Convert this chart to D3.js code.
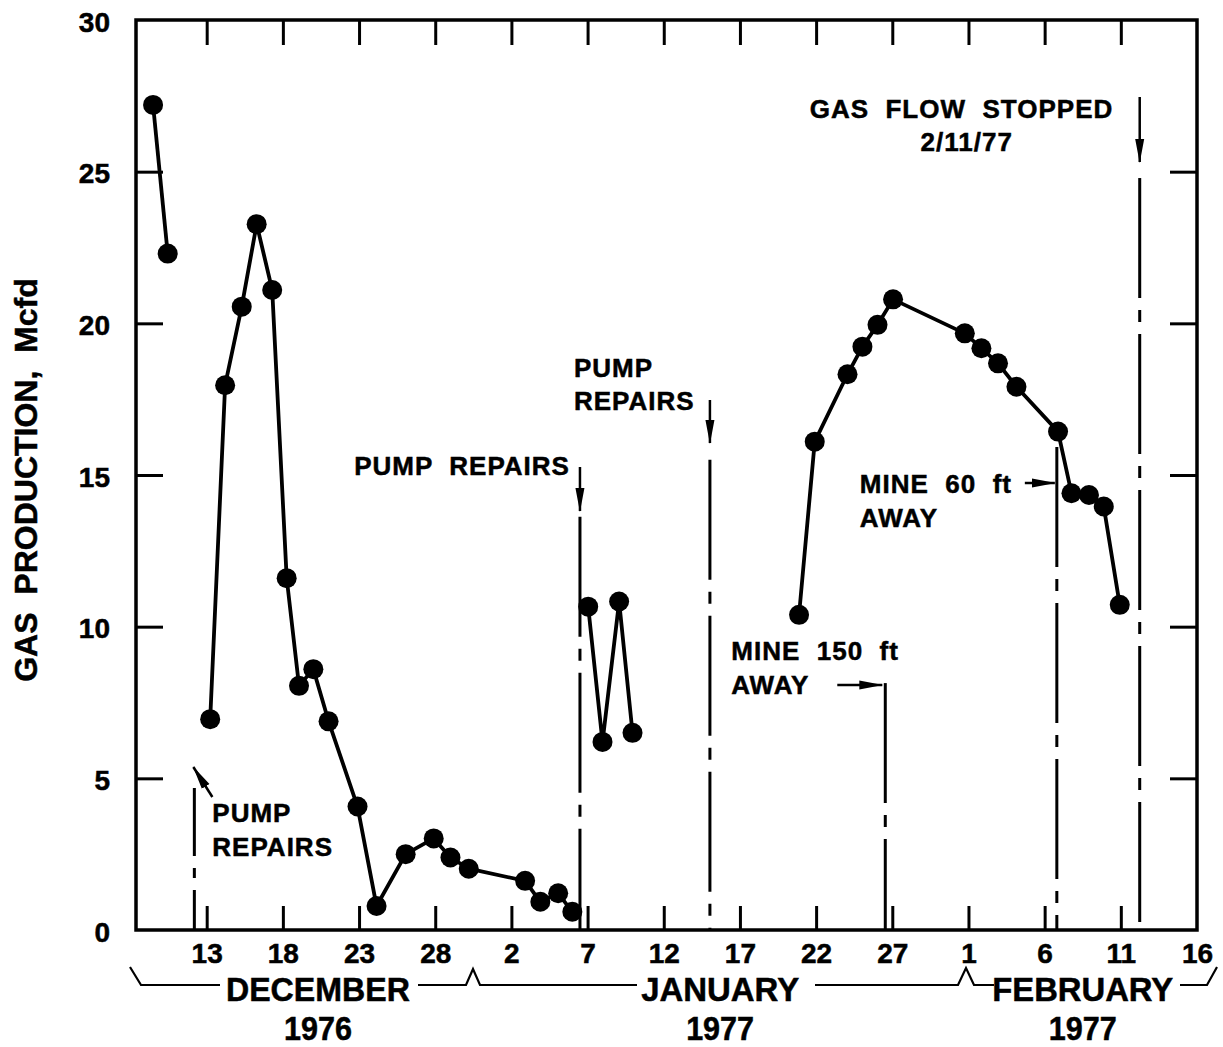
<!DOCTYPE html>
<html>
<head>
<meta charset="utf-8">
<script src="https://cdn.jsdelivr.net/npm/d3@7"></script>
<style>
  html, body { margin: 0; padding: 0; background: #fff; }
  svg { display: block; }
  text { font-family: "Liberation Sans", Arial, Helvetica, sans-serif; font-weight: bold; fill: #000; white-space: pre; stroke: #000; stroke-width: 0.5px; }
</style>
</head>
<body>
<svg id="chart" width="1223" height="1047"></svg>
<script>
// ---- DATA (x = day number counted from 1 Dec 1976 = 1) ----
const tickDays   = [13, 18, 23, 28, 33, 38, 43, 48, 53, 58, 63, 68, 73, 78];
const tickLabels = ['13','18','23','28','2','7','12','17','22','27','1','6','11','16'];
const yTickValues = [0, 5, 10, 15, 20, 25, 30];

const earlyDays   = [9.48, 10.44];
const earlyValues = [27.2, 22.3];

const decDays   = [13.23, 14.21, 15.3, 16.28, 17.3, 18.25, 19.06, 20.0, 21.0, 22.9, 24.15, 26.06, 27.9, 29.0, 30.2, 33.9, 34.9, 36.07, 37.0];
const decValues = [6.95, 17.96, 20.55, 23.27, 21.1, 11.6, 8.05, 8.6, 6.88, 4.07, 0.79, 2.5, 3.02, 2.39, 2.02, 1.62, 0.93, 1.21, 0.6];

const janDays   = [38.04, 38.98, 40.07, 40.95];
const janValues = [10.66, 6.2, 10.83, 6.5];

const febDays   = [51.88, 52.91, 55.06, 56.04, 57.03, 58.05, 62.76, 63.85, 64.94, 66.15, 68.88, 69.76, 70.91, 71.88, 72.93];
const febValues = [10.39, 16.1, 18.32, 19.23, 19.95, 20.79, 19.67, 19.18, 18.68, 17.91, 16.43, 14.4, 14.34, 13.96, 10.72];

// event markers (vertical dash-dot lines): day and the value where the line starts
const eventDays = [12.19, 37.5, 46.03, 57.54, 68.8, 74.24];
const eventTops = [4.68, 13.62, 15.5, 8.14, 15.92, 24.79];

const monthLabels = ['DECEMBER', 'JANUARY', 'FEBRUARY'];
const yearLabels  = ['1976', '1977', '1977'];
const yTitle = 'GAS  PRODUCTION,  Mcfd';

// ---- SCALES ----
const svg = d3.select('#chart');
const x = d3.scaleLinear().domain([8.36, 78]).range([136, 1197]);
const y = d3.scaleLinear().domain([0, 30]).range([930, 20]);

const segments = [
  earlyDays.map((d, i) => ({ d, v: earlyValues[i] })),
  decDays.map((d, i) => ({ d, v: decValues[i] })),
  janDays.map((d, i) => ({ d, v: janValues[i] })),
  febDays.map((d, i) => ({ d, v: febValues[i] }))
];

// arrow marker
const defs = svg.append('defs');
defs.append('marker')
  .attr('id', 'arr').attr('markerUnits', 'userSpaceOnUse')
  .attr('viewBox', '0 -6 24 12').attr('markerWidth', 24).attr('markerHeight', 12)
  .attr('refX', 23).attr('refY', 0).attr('orient', 'auto')
  .append('path').attr('d', 'M0,-4.5 L24,0 L0,4.5 Z').attr('fill', '#000');

// ---- AXES (ticks inside on all four sides) ----
const [x0, x1] = x.range();
const [yb, yt] = y.range();

const gB = svg.append('g').attr('transform', `translate(0,${yb})`)
  .call(d3.axisBottom(x).tickValues(tickDays).tickSizeInner(-24).tickSizeOuter(0)
    .tickFormat(d => tickLabels[tickDays.indexOf(d)]));
gB.selectAll('text').attr('y', 0).attr('dy', 33).style('font-size', '28px');

const gT = svg.append('g').attr('transform', `translate(0,${yt})`)
  .call(d3.axisTop(x).tickValues(tickDays.slice(0, -1)).tickSizeInner(-25).tickSizeOuter(0).tickFormat(''));

const gL = svg.append('g').attr('transform', `translate(${x0},0)`)
  .call(d3.axisLeft(y).tickValues(yTickValues).tickSizeInner(-27).tickSizeOuter(0));
gL.selectAll('text').attr('x', -26).attr('dy', 11).style('font-size', '28px');
gL.selectAll('.tick').filter(d => d === 0 || d === 30).select('line').remove();

const gR = svg.append('g').attr('transform', `translate(${x1},0)`)
  .call(d3.axisRight(y).tickValues(yTickValues.slice(1, -1)).tickSizeInner(-27).tickSizeOuter(0).tickFormat(''));

[gB, gT, gL, gR].forEach(g => {
  g.select('.domain').remove();
  g.selectAll('.tick line').attr('stroke', '#000').attr('stroke-width', 3);
  g.selectAll('text').attr('fill', '#000').style('font-family', '"Liberation Sans", Arial, sans-serif').style('font-weight', 'bold');
});
gB.select('.tick:last-child line').remove();

// frame
svg.append('rect').attr('x', x0).attr('y', yt).attr('width', x1 - x0).attr('height', yb - yt)
  .attr('fill', 'none').attr('stroke', '#000').attr('stroke-width', 3.5);

// ---- EVENT LINES ----
svg.append('g').selectAll('line').data(eventDays).join('line')
  .attr('x1', d => x(d)).attr('x2', d => x(d))
  .attr('y1', (d, i) => y(eventTops[i])).attr('y2', y(0))
  .attr('stroke', '#000').attr('stroke-width', 3)
  .attr('stroke-dasharray', (d, i) => i === 0 ? '68,12,10,12' : '120,12,12,12');

// arrows
const ax = eventDays.map(d => x(d));
const arrows = [
  [ax[0] + 18, 797, ax[0] - 1, 767],
  [ax[1], 467, ax[1], 511],
  [ax[2], 400, ax[2], 443],
  [ax[3] - 48, 685, ax[3] - 3, 685],
  [ax[4] - 32, 483, ax[4] - 2, 483],
  [ax[5], 97, ax[5], 162]
];
svg.append('g').selectAll('line').data(arrows).join('line')
  .attr('x1', d => d[0]).attr('y1', d => d[1]).attr('x2', d => d[2]).attr('y2', d => d[3])
  .attr('stroke', '#000').attr('stroke-width', 2.5).attr('marker-end', 'url(#arr)');

// ---- DATA LINES & POINTS ----
const line = d3.line().x(p => x(p.d)).y(p => y(p.v));
const gData = svg.append('g');
gData.selectAll('path').data(segments).join('path')
  .attr('d', line).attr('fill', 'none').attr('stroke', '#000').attr('stroke-width', 3.8).attr('stroke-linejoin', 'round');
gData.selectAll('circle').data(segments.flat()).join('circle')
  .attr('cx', p => x(p.d)).attr('cy', p => y(p.v)).attr('r', 10).attr('fill', '#000');

// ---- ANNOTATIONS ----
const notes = [
  { t: 'PUMP', x: ax[0] + 18, y: 822, a: 'start' },
  { t: 'REPAIRS', x: ax[0] + 18, y: 856, a: 'start' },
  { t: 'PUMP  REPAIRS', x: ax[1] - 10, y: 475, a: 'end' },
  { t: 'PUMP', x: ax[2] - 136, y: 377, a: 'start' },
  { t: 'REPAIRS', x: ax[2] - 136, y: 410, a: 'start' },
  { t: 'MINE  150  ft', x: ax[3] - 154, y: 660, a: 'start' },
  { t: 'AWAY', x: ax[3] - 154, y: 694, a: 'start' },
  { t: 'MINE  60  ft', x: ax[4] - 197, y: 493, a: 'start' },
  { t: 'AWAY', x: ax[4] - 197, y: 527, a: 'start' },
  { t: 'GAS  FLOW  STOPPED', x: ax[5] - 330, y: 118, a: 'start' },
  { t: '2/11/77', x: ax[5] - 173, y: 151, a: 'middle' }
];
svg.append('g').selectAll('text').data(notes).join('text')
  .attr('x', d => d.x).attr('y', d => d.y).attr('text-anchor', d => d.a)
  .style('font-size', '26px').style('letter-spacing', '1px')
  .text(d => d.t);

// ---- MONTH BRACES ----
const by = 985;
const braces = [
  [[130, 967], [141, by], [220, by]],
  [[418, by], [466, by], [473, 969], [480, by], [637, by]],
  [[815, by], [958, by], [966, 968], [974, by], [994, by]],
  [[1180, by], [1207, by], [1217, 967]]
];
svg.append('g').selectAll('path').data(braces).join('path')
  .attr('d', d3.line()).attr('fill', 'none').attr('stroke', '#000').attr('stroke-width', 2.2);

const monthCenters = [x(20.3), x(46.7), x(70.5)];
const monthWidths = [184, 158, 181];
svg.append('g').selectAll('text').data(monthLabels).join('text')
  .attr('x', (d, i) => monthCenters[i]).attr('y', 1001).attr('text-anchor', 'middle')
  .attr('textLength', (d, i) => monthWidths[i]).attr('lengthAdjust', 'spacingAndGlyphs')
  .style('font-size', '34px').text(d => d);
svg.append('g').selectAll('text').data(yearLabels).join('text')
  .attr('x', (d, i) => monthCenters[i]).attr('y', 1040).attr('text-anchor', 'middle')
  .attr('textLength', 68).attr('lengthAdjust', 'spacingAndGlyphs')
  .style('font-size', '33px').text(d => d);

// ---- Y TITLE ----
svg.append('text').attr('transform', `translate(37,${y(15) + 5}) rotate(-90)`)
  .attr('text-anchor', 'middle').style('font-size', '32px').text(yTitle);
</script>
</body>
</html>
